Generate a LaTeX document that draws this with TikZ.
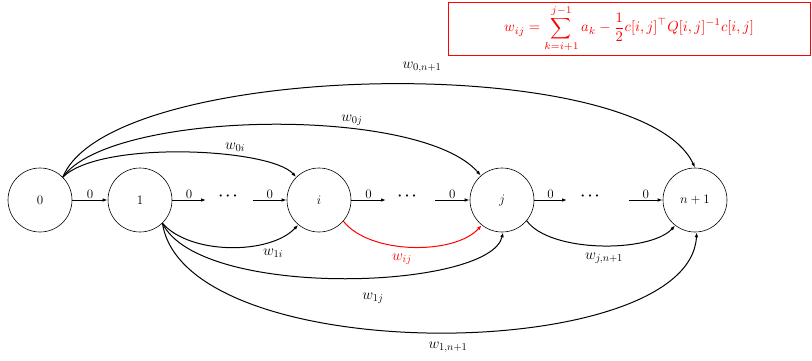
\RequirePackage{fix-cm}
\documentclass[tikz,border=0pt]{standalone}
\usetikzlibrary{arrows.meta}
\begin{document}
\begin{tikzpicture}[x=1pt,y=-1pt,
  vtx/.style={circle,draw,line width=0.6pt,minimum size=64pt,inner sep=0pt,font=\fontsize{13}{15}\selectfont},
  arr/.style={line width=1pt,-{Latex[length=5pt,width=3.5pt]}},
  zl/.style={font=\fontsize{13}{15}\selectfont,above,inner sep=1pt},
  dl/.style={font=\fontsize{14}{16}\selectfont\boldmath},
  wl/.style={font=\fontsize{15}{17}\selectfont},
  red/.style={draw=red,text=red}]
\useasboundingbox (0,0) rectangle (812,360);
\node[vtx] (n0) at (40,200) {$0$};
\node[vtx] (n1) at (140,200) {$1$};
\node[vtx] (ni) at (319,200) {$i$};
\node[vtx] (nj) at (502,200) {$j$};
\node[vtx] (nn) at (695,200) {$n+1$};
\node[dl] (d1) at (228,196) {$\cdots$};
\node[dl] (d2) at (407,196) {$\cdots$};
\node[dl] (d3) at (590,196) {$\cdots$};
\coordinate (a1) at (206,200);
\coordinate (b1) at (253,200);
\coordinate (a2) at (386,200);
\coordinate (b2) at (435,200);
\coordinate (a3) at (567,200);
\coordinate (b3) at (629,200);
% horizontal arrows
\draw[arr] (n0) -- node[zl]{$0$} (n1);
\draw[arr] (n1) -- node[zl]{$0$} (a1);
\draw[arr] (b1) -- node[zl]{$0$} (ni);
\draw[arr] (ni) -- node[zl]{$0$} (a2);
\draw[arr] (b2) -- node[zl]{$0$} (nj);
\draw[arr] (nj) -- node[zl]{$0$} (a3);
\draw[arr] (b3) -- node[zl]{$0$} (nn);
% top curves
\draw[arr] (n0.45) .. controls (100,140) and (270,148) .. (ni.135);
\draw[arr] (n0.45) .. controls (110,110) and (420,105) .. (nj.131);
\draw[arr] (n0.45) .. controls (110,60) and (640,50) .. (nn.90);
\node[wl] (l0i) at (235,147) {$w_{0i}$};
\node[wl] (l0j) at (352,120) {$w_{0j}$};
\node[wl] (l0n) at (422,67) {$w_{0,n+1}$};
% bottom curves
\draw[arr] (n1.-46) .. controls (190,255) and (270,255) .. (ni.-130);
\draw[arr,draw=red] (ni.-41) .. controls (370,255) and (455,255) .. (nj.-129);
\draw[arr] (nj.-40) .. controls (550,253) and (650,253) .. (nn.-128);
\draw[arr] (n1.-46) .. controls (200,300) and (490,290) .. (nj.-88);
\draw[arr] (n1.-46) .. controls (185,370) and (690,365) .. (nn.-87);
\node[wl] (l1i) at (273,253) {$w_{1i}$};
\node[wl,text=red] (lij) at (402,259) {$w_{ij}$};
\node[wl] (ljn) at (604,258) {$w_{j,n+1}$};
\node[wl] (l1j) at (373,298) {$w_{1j}$};
\node[wl] (l1n) at (448,347) {$w_{1,n+1}$};
% formula box
\node[red,line width=0.8pt,minimum width=362pt,minimum height=53pt,inner sep=0pt] (fb) at (629,28.5)
  {\scalebox{1.46}{$\displaystyle w_{ij}=\sum_{k=i+1}^{j-1}a_k-\frac{1}{2}c[i,j]^{\top}Q[i,j]^{-1}c[i,j]$}};
\end{tikzpicture}
\end{document}
